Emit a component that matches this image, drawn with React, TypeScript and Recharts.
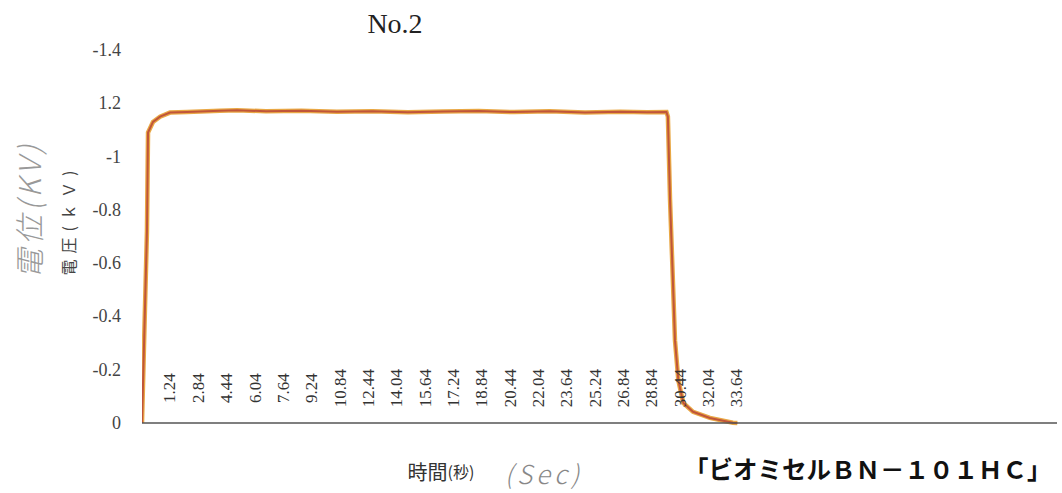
import React from 'react';
import { LineChart, Line, XAxis, YAxis } from 'recharts';

// time (seconds) and measured voltage (kV)
const timeSec = [0, 0.28, 0.34, 0.62, 1.02, 1.58, 2.54, 4.4, 5.36, 7, 9, 11, 13, 15, 17, 19, 21, 23, 25, 27, 28.5, 29.6, 29.68, 29.8, 30.08, 30.27, 30.55, 31.1, 32.05, 33.35, 33.6];
const voltageKV = [0, 0.72, 1.09, 1.13, 1.15, 1.165, 1.167, 1.172, 1.174, 1.17, 1.172, 1.168, 1.17, 1.166, 1.169, 1.171, 1.167, 1.17, 1.165, 1.168, 1.166, 1.167, 1.15, 0.84, 0.31, 0.16, 0.075, 0.042, 0.019, 0.001, 0];

const xTickValues = [1.24, 2.84, 4.44, 6.04, 7.64, 9.24, 10.84, 12.44, 14.04, 15.64, 17.24, 18.84, 20.44, 22.04, 23.64, 25.24, 26.84, 28.44, 30.04, 31.64, 33.24];
const xTickLabels = ['1.24', '2.84', '4.44', '6.04', '7.64', '9.24', '10.84', '12.44', '14.04', '15.64', '17.24', '18.84', '20.44', '22.04', '23.64', '25.24', '26.84', '28.84', '30.44', '32.04', '33.64'];

const yTickValues = [0, 0.2, 0.4, 0.6, 0.8, 1, 1.2, 1.4];
const yTickLabels = ['0', '-0.2', '-0.4', '-0.6', '-0.8', '-1', '1.2', '-1.4'];

const chartData = timeSec.map((t, i) => ({ t, v: voltageKV[i] }));

const SERIF = '"Liberation Serif", "DejaVu Serif", serif';
const JP = '"Noto Sans CJK JP", "Noto Sans", sans-serif';

const XTick = (props: any) => {
  const { x, payload } = props;
  const idx = xTickValues.findIndex((v) => Math.abs(v - payload.value) < 1e-6);
  const lx = x + 6;
  const ly = 388;
  return (
    <text
      x={lx}
      y={ly}
      transform={`rotate(-90, ${lx}, ${ly})`}
      textAnchor="middle"
      dominantBaseline="central"
      style={{ fontFamily: SERIF, fontSize: 17, fill: '#333' }}
    >
      {idx >= 0 ? xTickLabels[idx] : ''}
    </text>
  );
};

const YTick = (props: any) => {
  const { y, payload } = props;
  const idx = yTickValues.findIndex((v) => Math.abs(v - payload.value) < 1e-6);
  return (
    <text
      x={121}
      y={y}
      textAnchor="end"
      dominantBaseline="central"
      style={{ fontFamily: SERIF, fontSize: 18, fill: '#444' }}
    >
      {idx >= 0 ? yTickLabels[idx] : ''}
    </text>
  );
};

export default function App() {
  return (
    <div style={{ position: 'absolute', left: 0, top: 0, width: 1062, height: 493, background: '#fff' }}>
      <LineChart
        width={1062}
        height={493}
        data={chartData}
        margin={{ top: 50, right: 5, bottom: 40, left: 82 }}
      >
        <XAxis
          type="number"
          dataKey="t"
          domain={[0, 51.64]}
          ticks={xTickValues}
          interval={0}
          tick={XTick}
          tickLine={false}
          axisLine={{ stroke: '#555', strokeWidth: 1.5 }}
          height={30}
          allowDataOverflow
        />
        <YAxis
          type="number"
          domain={[0, 1.4]}
          ticks={yTickValues}
          interval={0}
          tick={YTick}
          tickLine={false}
          axisLine={false}
          width={60}
        />
        <Line
          type="linear"
          dataKey="v"
          stroke="#e9a845"
          strokeWidth={4.5}
          dot={false}
          isAnimationActive={false}
        />
        <Line
          type="linear"
          dataKey="v"
          stroke="#c0553a"
          strokeWidth={2}
          dot={false}
          isAnimationActive={false}
        />
      </LineChart>
      <svg
        width={1062}
        height={493}
        style={{ position: 'absolute', left: 0, top: 0, pointerEvents: 'none' }}
      >
        <text x={395} y={33} textAnchor="middle" style={{ fontFamily: SERIF, fontSize: 28, fill: '#222' }}>
          No.2
        </text>
        <text
          x={68}
          y={220}
          transform="rotate(-90, 68, 220)"
          textAnchor="middle"
          dominantBaseline="central"
          style={{ fontFamily: JP, fontSize: 16, letterSpacing: 6, fill: '#444' }}
        >
          電圧(ｋＶ)
        </text>
        <text
          x={28}
          y={210}
          transform="rotate(-90, 28, 210)"
          textAnchor="middle"
          dominantBaseline="central"
          style={{ fontFamily: JP, fontSize: 30, letterSpacing: 4, fontWeight: 300, fontStyle: 'italic', fill: '#999' }}
        >
          電位(KV)
        </text>
        <text x={441} y={471} textAnchor="middle" dominantBaseline="central" style={{ fontFamily: JP, fill: '#333' }}>
          <tspan style={{ fontSize: 20 }}>時間</tspan>
          <tspan style={{ fontSize: 16 }}>(秒)</tspan>
        </text>
        <text
          x={544}
          y={472}
          textAnchor="middle"
          dominantBaseline="central"
          style={{ fontFamily: JP, fontSize: 26, letterSpacing: 4, fontWeight: 300, fontStyle: 'italic', fill: '#888' }}
        >
          (Sec)
        </text>
        <text
          x={684}
          y={468}
          textAnchor="start"
          dominantBaseline="central"
          style={{ fontFamily: JP, fontSize: 24.5, fontWeight: 700, fill: '#111' }}
        >
          「ビオミセルＢＮ－１０１ＨＣ」
        </text>
      </svg>
    </div>
  );
}
